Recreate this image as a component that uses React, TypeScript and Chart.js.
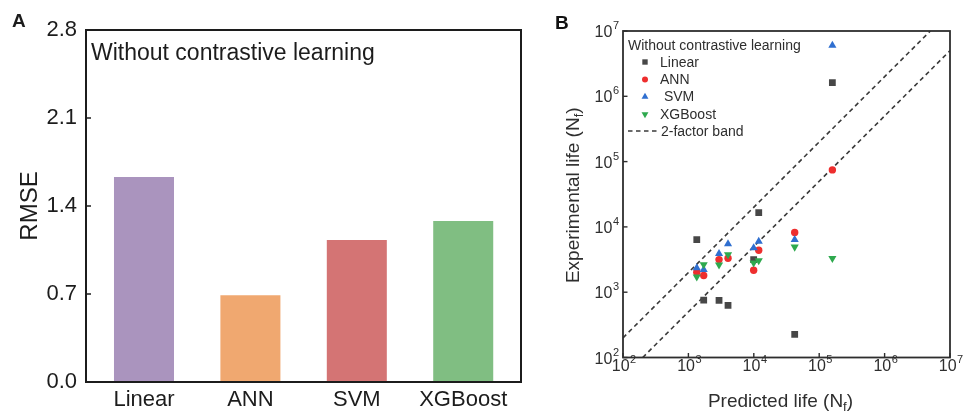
import React, { useEffect, useRef } from "react";
import { Chart, registerables } from "chart.js";

Chart.register(...registerables);

const FONT = '"Liberation Sans", Arial, Helvetica, sans-serif';
const INK = "#1c1c1c";
const INK_B = "#2e2e2e";

// Panel A: RMSE of each model
const models = ["Linear", "ANN", "SVM", "XGBoost"];
const rmse = [1.63, 0.69, 1.13, 1.28];
const barColors = ["#AA94BE", "#F0A870", "#D47474", "#80BE82"];
const rmseTicks = [0, 0.7, 1.4, 2.1, 2.8];

// Panel B: predicted vs experimental fatigue life
const predictedLife = [1343, 1714, 2940, 4036, 9950, 11900, 42200, 159000];
const linearLife = [6400, 755, 747, 627, 3155, 16600, 226, 1620000];
const annLife = [2018, 1800, 3155, 3305, 2170, 4380, 8240, 74600];
const svmLife = [2355, 2223, 3900, 5480, 4770, 6010, 6380, 6000000];
const xgbLife = [1718, 2650, 2620, 3765, 2810, 3050, 4930, 3305];
const decades = [1e2, 1e3, 1e4, 1e5, 1e6, 1e7];
const decadeExponents = ["2", "3", "4", "5", "6", "7"];
const bandUpper = [
  { x: 1e2, y: 2e2 },
  { x: 5e6, y: 1e7 },
];
const bandLower = [
  { x: 2e2, y: 1e2 },
  { x: 1e7, y: 5e6 },
];

const seriesColors = {
  linear: "#474747",
  ann: "#EE2E2E",
  svm: "#2F6FD0",
  xgb: "#2EA94E",
};

type Marker = "rect" | "circle" | "triangle" | "down";

function drawMarker(ctx: CanvasRenderingContext2D, kind: Marker, x: number, y: number, r: number, color: string) {
  ctx.save();
  ctx.fillStyle = color;
  ctx.beginPath();
  if (kind === "rect") {
    const s = r * Math.SQRT1_2;
    ctx.rect(x - s, y - s, 2 * s, 2 * s);
  } else if (kind === "circle") {
    ctx.arc(x, y, r, 0, Math.PI * 2);
  } else {
    const d = kind === "triangle" ? 1 : -1;
    const w = r * Math.sin(Math.PI / 3);
    ctx.moveTo(x, y - d * r);
    ctx.lineTo(x - w, y + d * r * 0.5);
    ctx.lineTo(x + w, y + d * r * 0.5);
    ctx.closePath();
  }
  ctx.fill();
  ctx.restore();
}

// Frame, inward ticks and captions for the RMSE bar panel
const panelADecor = {
  id: "panelADecor",
  afterDraw(chart: any) {
    const ctx: CanvasRenderingContext2D = chart.ctx;
    const { left, right, top, bottom } = chart.chartArea;
    const yScale = chart.scales.y;
    ctx.save();
    ctx.strokeStyle = INK;
    ctx.lineWidth = 2;
    ctx.strokeRect(left, top, right - left, bottom - top);
    ctx.lineWidth = 1.5;
    rmseTicks.forEach((v) => {
      const py = yScale.getPixelForValue(v);
      ctx.beginPath();
      ctx.moveTo(left, py);
      ctx.lineTo(left + 5, py);
      ctx.stroke();
    });
    ctx.fillStyle = INK;
    ctx.textBaseline = "alphabetic";
    ctx.textAlign = "left";
    ctx.font = `23px ${FONT}`;
    ctx.fillText("Without contrastive learning", left + 5, top + 29.5);
    ctx.font = `bold 19px ${FONT}`;
    ctx.fillText("A", 12, 27);
    ctx.translate(37, (top + bottom) / 2);
    ctx.rotate(-Math.PI / 2);
    ctx.textAlign = "center";
    ctx.font = `24px ${FONT}`;
    ctx.fillText("RMSE", 0, 0);
    ctx.restore();
  },
};

function drawPower(ctx: CanvasRenderingContext2D, exp: string, x: number, base: number, align: "center" | "right") {
  ctx.font = `16px ${FONT}`;
  const wBase = ctx.measureText("10").width;
  ctx.font = `11px ${FONT}`;
  const wExp = ctx.measureText(exp).width;
  const total = wBase + 0.5 + wExp;
  const x0 = align === "center" ? x - total / 2 + 1 : x - total;
  ctx.textAlign = "left";
  ctx.textBaseline = "alphabetic";
  ctx.font = `16px ${FONT}`;
  ctx.fillText("10", x0, base);
  ctx.font = `11px ${FONT}`;
  ctx.fillText(exp, x0 + wBase + 0.5, base - 8);
}

function drawLifeTitle(ctx: CanvasRenderingContext2D, lead: string, x: number, y: number) {
  // Title of the form "<lead> (N_f)", centred on x with baseline y
  const big = `19px ${FONT}`;
  const small = `13px ${FONT}`;
  ctx.font = big;
  const w1 = ctx.measureText(lead + " (N").width;
  const w3 = ctx.measureText(")").width;
  ctx.font = small;
  const w2 = ctx.measureText("f").width;
  const x0 = x - (w1 + w2 + w3) / 2;
  ctx.textAlign = "left";
  ctx.textBaseline = "alphabetic";
  ctx.font = big;
  ctx.fillText(lead + " (N", x0, y);
  ctx.font = small;
  ctx.fillText("f", x0 + w1, y + 4);
  ctx.font = big;
  ctx.fillText(")", x0 + w1 + w2, y);
}

// Frame, inward ticks, power-of-ten labels, titles and legend for the life panel
const panelBDecor = {
  id: "panelBDecor",
  afterDraw(chart: any) {
    const ctx: CanvasRenderingContext2D = chart.ctx;
    const { left, right, top, bottom } = chart.chartArea;
    const xs = chart.scales.x;
    const ys = chart.scales.y;
    ctx.save();
    ctx.strokeStyle = INK_B;
    ctx.lineWidth = 1.8;
    ctx.strokeRect(left, top, right - left, bottom - top);
    ctx.lineWidth = 1.4;
    decades.forEach((v) => {
      const px = xs.getPixelForValue(v);
      ctx.beginPath();
      ctx.moveTo(px, bottom);
      ctx.lineTo(px, bottom - 4.5);
      ctx.stroke();
      const py = ys.getPixelForValue(v);
      ctx.beginPath();
      ctx.moveTo(left, py);
      ctx.lineTo(left + 4.5, py);
      ctx.stroke();
    });

    ctx.fillStyle = INK_B;
    decades.forEach((v, i) => {
      drawPower(ctx, decadeExponents[i], xs.getPixelForValue(v), bottom + 13, "center");
      drawPower(ctx, decadeExponents[i], left - 4, ys.getPixelForValue(v) + 6, "right");
    });

    drawLifeTitle(ctx, "Predicted life", (left + right) / 2 - 6, 407);
    ctx.save();
    ctx.translate(39, (top + bottom) / 2 + 1);
    ctx.rotate(-Math.PI / 2);
    drawLifeTitle(ctx, "Experimental life", 0, 0);
    ctx.restore();

    // legend
    ctx.fillStyle = INK_B;
    ctx.font = `14px ${FONT}`;
    ctx.textAlign = "left";
    ctx.textBaseline = "alphabetic";
    ctx.fillText("Without contrastive learning", left + 5, top + 18.5);
    const rows = chart.data.datasets.filter((d: any) => d.marker);
    rows.forEach((d: any, i: number) => {
      const base = top + 35.5 + i * 17.4;
      const size = d.marker === "rect" ? 3.8 : d.marker === "circle" ? 3 : 4;
      drawMarker(ctx, d.marker, left + 22, base - 4.5, size, d.backgroundColor);
      ctx.fillStyle = INK_B;
      ctx.font = `14px ${FONT}`;
      ctx.fillText(d.label, left + 37, base);
    });
    const bandBase = top + 35.5 + 4 * 17.4;
    ctx.strokeStyle = "#3a3a3a";
    ctx.lineWidth = 1.5;
    ctx.setLineDash([4.5, 3.5]);
    ctx.beginPath();
    ctx.moveTo(left + 5, bandBase - 5);
    ctx.lineTo(left + 37, bandBase - 5);
    ctx.stroke();
    ctx.setLineDash([]);
    ctx.fillText("2-factor band", left + 38, bandBase);

    ctx.fillStyle = "#111";
    ctx.font = `bold 19px ${FONT}`;
    ctx.fillText("B", 15, 28.5);
    ctx.restore();
  },
};

function RmsePanel() {
  const ref = useRef<HTMLCanvasElement>(null);
  useEffect(() => {
    const chart = new Chart(ref.current as HTMLCanvasElement, {
      type: "bar",
      data: {
        datasets: [
          {
            data: rmse.map((v, i) => ({ x: i, y: v })),
            backgroundColor: barColors,
            borderWidth: 0,
            barPercentage: 0.564,
            categoryPercentage: 1,
          },
        ],
      },
      options: {
        responsive: false,
        animation: false,
        devicePixelRatio: 1,
        layout: { padding: { left: 0, right: 19, top: 30, bottom: 0 } },
        plugins: { legend: { display: false }, tooltip: { enabled: false } },
        scales: {
          x: {
            type: "linear",
            min: -0.545,
            max: 3.543,
            offset: false,
            grid: { display: false, drawTicks: false },
            border: { display: false },
            afterBuildTicks: (s: any) => {
              s.ticks = models.map((_, i) => ({ value: i }));
            },
            afterFit: (s: any) => {
              s.height = 31;
            },
            ticks: {
              callback: (v: any) => models[v] ?? "",
              font: { family: FONT, size: 22 },
              color: INK,
              padding: 5,
              autoSkip: false,
              maxRotation: 0,
            },
          },
          y: {
            min: 0,
            max: 2.8,
            grid: { display: false, drawTicks: false },
            border: { display: false },
            afterBuildTicks: (s: any) => {
              s.ticks = rmseTicks.map((v) => ({ value: v }));
            },
            afterFit: (s: any) => {
              s.width = 86;
            },
            ticks: {
              callback: (v: any) => Number(v).toFixed(1),
              font: { family: FONT, size: 22 },
              color: INK,
              padding: 9,
            },
          },
        },
      } as any,
      plugins: [panelADecor],
    });
    return () => chart.destroy();
  }, []);
  return (
    <canvas
      ref={ref}
      width={540}
      height={413}
      style={{ position: "absolute", left: 0, top: 0, width: 540, height: 413 }}
    />
  );
}

function LifePanel() {
  const ref = useRef<HTMLCanvasElement>(null);
  useEffect(() => {
    const pts = (ys: number[]) => predictedLife.map((x, i) => ({ x, y: ys[i] }));
    const band = (data: { x: number; y: number }[]) => ({
      data,
      showLine: true,
      borderColor: "#3a3a3a",
      borderWidth: 1.6,
      borderDash: [4.5, 3.5],
      pointRadius: 0,
      fill: false,
      order: 10,
    });
    const chart = new Chart(ref.current as HTMLCanvasElement, {
      type: "scatter",
      data: {
        datasets: [
          band(bandUpper),
          band(bandLower),
          {
            label: "Linear",
            marker: "rect",
            data: pts(linearLife),
            pointStyle: "rect",
            pointRadius: 4.8,
            backgroundColor: seriesColors.linear,
            borderWidth: 0,
            order: 4,
          },
          {
            label: "ANN",
            marker: "circle",
            data: pts(annLife),
            pointStyle: "circle",
            pointRadius: 3.7,
            backgroundColor: seriesColors.ann,
            borderWidth: 0,
            order: 3,
          },
          {
            label: " SVM",
            marker: "triangle",
            data: pts(svmLife),
            pointStyle: "triangle",
            pointRadius: 4.7,
            backgroundColor: seriesColors.svm,
            borderWidth: 0,
            order: 2,
          },
          {
            label: "XGBoost",
            marker: "down",
            data: pts(xgbLife),
            pointStyle: "triangle",
            rotation: 180,
            pointRadius: 4.7,
            backgroundColor: seriesColors.xgb,
            borderWidth: 0,
            order: 1,
          },
        ],
      } as any,
      options: {
        responsive: false,
        animation: false,
        devicePixelRatio: 1,
        layout: { padding: { left: 0, right: 14, top: 31, bottom: 0 } },
        plugins: { legend: { display: false }, tooltip: { enabled: false } },
        scales: {
          x: {
            type: "logarithmic",
            min: 1e2,
            max: 1e7,
            grid: { display: false, drawTicks: false },
            border: { display: false },
            ticks: { display: false },
            afterFit: (s: any) => {
              s.height = 55.5;
            },
          },
          y: {
            type: "logarithmic",
            min: 1e2,
            max: 1e7,
            grid: { display: false, drawTicks: false },
            border: { display: false },
            ticks: { display: false },
            afterFit: (s: any) => {
              s.width = 83;
            },
          },
        },
      } as any,
      plugins: [panelBDecor],
    });
    return () => chart.destroy();
  }, []);
  return (
    <canvas
      ref={ref}
      width={424}
      height={413}
      style={{ position: "absolute", left: 540, top: 0, width: 424, height: 413 }}
    />
  );
}

export default function App() {
  return (
    <div
      style={{
        position: "fixed",
        left: 0,
        top: 0,
        width: 964,
        height: 413,
        background: "#ffffff",
        overflow: "hidden",
      }}
    >
      <RmsePanel />
      <LifePanel />
    </div>
  );
}
